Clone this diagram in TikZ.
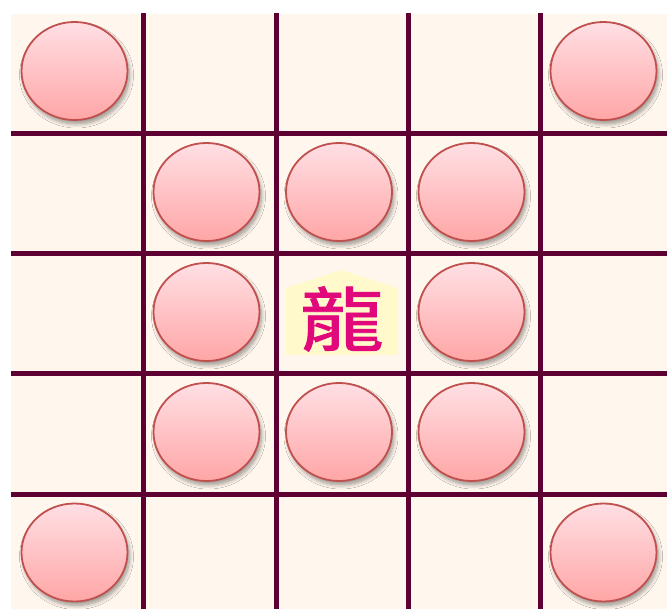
\documentclass[tikz,border=0pt]{standalone}
\usepackage{fontspec}
\newfontfamily\cjk[FakeBold=1.2]{Noto Sans CJK TC}
\usetikzlibrary{shapes.geometric,shadows.blur}
\definecolor{cream}{HTML}{FFF7EE}
\definecolor{maroon}{HTML}{5E0032}
\definecolor{rim}{HTML}{C0504D}
\definecolor{toppink}{HTML}{FFDFE4}
\definecolor{botpink}{HTML}{FFA6A6}
\definecolor{lemon}{HTML}{FFF9CC}
\definecolor{dragon}{HTML}{E0087A}
\tikzset{
  stone/.style={ellipse, draw=rim, line width=1.8pt, minimum width=106pt, minimum height=98pt,
    top color=toppink, bottom color=botpink,
    blur shadow={shadow xshift=2pt, shadow yshift=-4pt, shadow blur steps=8, shadow blur radius=4pt, shadow opacity=40}},
  gridline/.style={maroon, line width=5pt},
}
\begin{document}
\begin{tikzpicture}[x=1pt,y=-1pt]
\useasboundingbox (0,0) rectangle (667,609);
\fill[white] (0,0) rectangle (667,609);
\fill[cream] (11,14) rectangle (667,609);
% pentagon tile
\fill[lemon] (286,288) -- (341,270) -- (398,288) -- (398,355) -- (286,355) -- cycle;
\node[text=dragon, inner sep=0pt] (dragonchar) at (342,319) {\cjk\fontsize{70}{70}\selectfont\scalebox{1.2}[1]{龍}};
% grid lines
\foreach \x/\n in {143/v1,276/v2,408/v3,540/v4} {
  \coordinate (\n t) at (\x,13); \coordinate (\n b) at (\x,609);
  \draw[gridline] (\n t) -- (\n b);
}
\foreach \y/\n in {134/h1,254/h2,374/h3,495/h4} {
  \coordinate (\n l) at (11,\y); \coordinate (\n r) at (667,\y);
  \draw[gridline] (\n l) -- (\n r);
}
% stones
\node[stone] (s11) at (74.5,71) {};
\node[stone] (s15) at (603.5,71) {};
\node[stone] (s22) at (206.5,192) {};
\node[stone] (s23) at (339,192) {};
\node[stone] (s24) at (471.5,192) {};
\node[stone] (s32) at (206.5,312) {};
\node[stone] (s34) at (471.5,312) {};
\node[stone] (s42) at (206.5,432) {};
\node[stone] (s43) at (339,432) {};
\node[stone] (s44) at (471.5,432) {};
\node[stone] (s51) at (74.5,552.5) {};
\node[stone] (s55) at (603.5,552.5) {};
\end{tikzpicture}
\end{document}
